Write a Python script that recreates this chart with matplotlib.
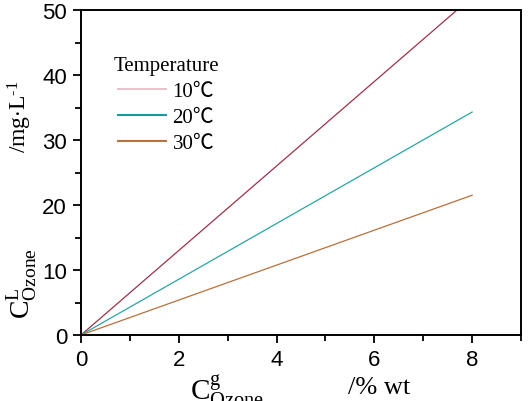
import matplotlib
matplotlib.use("Agg")
import matplotlib.pyplot as plt
from matplotlib.ticker import MultipleLocator

plt.rcParams['mathtext.fontset'] = 'custom'
plt.rcParams['mathtext.rm'] = 'Liberation Serif'
plt.rcParams['mathtext.it'] = 'Liberation Serif:italic'

SERIF = ['Liberation Serif', 'Noto Sans CJK SC', 'DejaVu Sans']

# Data
temperatures = ['10℃', '20℃', '30℃']
x_start = [0.0, 0.0, 0.0]
x_end = [8.0, 8.0, 8.0]
y_start = [0.0, 0.0, 0.0]
y_end = [52.0, 34.3, 21.5]
line_colors = ['#a03048', '#2aa5a5', '#b8703c']
legend_colors = ['#e8c4cc', '#1a9a9a', '#c07040']

fig = plt.figure(figsize=(5.30, 4.02), dpi=100)
ax = fig.add_axes([81/530, 1-336/402, (521-81)/530, (336-11)/402])

for lab, xs, xe, ys, ye, c in zip(temperatures, x_start, x_end, y_start, y_end, line_colors):
    ax.plot([xs, xe], [ys, ye], color=c, lw=0.9, label=lab)

ax.set_xlim(0, 9)
ax.set_ylim(0, 50)
ax.xaxis.set_major_locator(MultipleLocator(2))
ax.xaxis.set_minor_locator(MultipleLocator(1))
ax.yaxis.set_major_locator(MultipleLocator(10))
ax.yaxis.set_minor_locator(MultipleLocator(5))
ax.tick_params(which='both', direction='out', top=False, right=False, width=1.3)
ax.tick_params(which='major', length=6, pad=4)
ax.tick_params(which='minor', length=4)
for lbl in ax.get_xticklabels() + ax.get_yticklabels():
    lbl.set_fontfamily('Liberation Sans')
    lbl.set_fontsize(16)
for s in ax.spines.values():
    s.set_linewidth(1.4)

leg = ax.legend(title='Temperature', loc='upper left', bbox_to_anchor=(0.055, 0.885),
                frameon=False, prop={'family': SERIF, 'size': 15},
                handlelength=2.3, handletextpad=0.3, labelspacing=0.32,
                borderaxespad=0)
leg.get_title().set_fontfamily(SERIF)
leg.get_title().set_fontsize(15)
for h, c in zip(leg.get_lines(), legend_colors):
    h.set_color(c)
    h.set_linewidth(1.5)

# Axis labels
fig.text(22/530, 1-284/402, r'$\mathrm{C}^{\mathrm{L}}_{\mathrm{Ozone}}$', rotation=90,
         ha='center', va='center', fontsize=20, fontfamily='Liberation Serif')
fig.text(20/530, 1-117/402, r'/mg$\cdot$L$^{\text{-1}}$', rotation=90,
         ha='center', va='center', fontsize=17, fontfamily='Liberation Serif')
fig.text(190/530, 1-373/402, r'$\mathrm{C}^{\mathrm{g}}_{\mathrm{Ozone}}$',
         ha='left', va='top', fontsize=21, fontfamily='Liberation Serif')
fig.text(348/530, 1-377/402, '/% wt',
         ha='left', va='top', fontsize=19, fontfamily='Liberation Serif')

fig.savefig('out.png', dpi=100)
